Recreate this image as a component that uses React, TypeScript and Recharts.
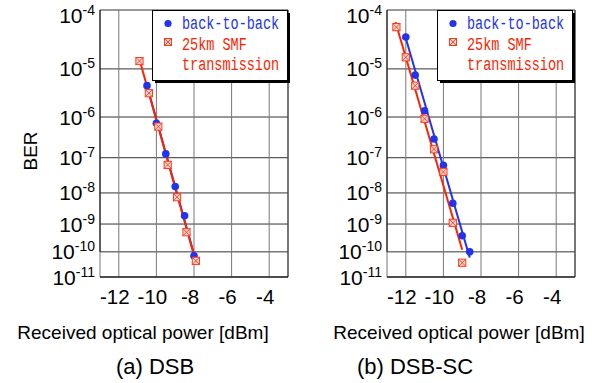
import React from "react";
import { LineChart, Line, XAxis, YAxis, CartesianGrid, ReferenceLine, Legend } from "recharts";

// ---- data (received optical power in dBm, BER) ----
const powerTicks = [-12, -10, -8, -6, -4];
const berExponents = [4, 5, 6, 7, 8, 9, 10, 11];

// (a) DSB
const dsbB2bPower = [-10.5, -10, -9.5, -9, -8.5, -8];
const dsbB2bBer = [4.7e-6, 7.2e-7, 1.26e-7, 1.55e-8, 1.9e-9, 7e-11];
const dsbSmfPower = [-10.9, -10.4, -9.9, -9.4, -8.9, -8.4, -7.9];
const dsbSmfBer = [1.4e-5, 3.3e-6, 6e-7, 6.4e-8, 7.4e-9, 5.2e-10, 4.5e-11];
const dsbB2bFitPower = [-10.5, -7.95];
const dsbB2bFitBer = [4.7e-6, 6e-11];
const dsbSmfFitPower = [-10.85, -8.0];
const dsbSmfFitBer = [1.3e-5, 7.5e-11];

// (b) DSB-SC
const dsbscB2bPower = [-12, -11.5, -11, -10.5, -10, -9.5, -9, -8.6];
const dsbscB2bBer = [3.7e-5, 7.6e-6, 1.38e-6, 3e-7, 6.2e-8, 4.8e-9, 3.9e-10, 1e-10];
const dsbscSmfPower = [-12.5, -12, -11.5, -11, -10.5, -10, -9.5, -9];
const dsbscSmfBer = [5.4e-5, 1.64e-5, 4.7e-6, 9.1e-7, 1.66e-7, 4.1e-8, 1.1e-9, 3.8e-11];
const dsbscB2bFitPower = [-12.05, -8.6];
const dsbscB2bFitBer = [4e-5, 6e-11];
const dsbscSmfFitPower = [-12.55, -9.0];
const dsbscSmfFitBer = [6.5e-5, 1.2e-10];

const legendLabels = ["back-to-back", "25km SMF", "transmission"];
const xTitle = "Received optical power [dBm]";
const yTitle = "BER";
const captions = ["(a) DSB", "(b) DSB-SC"];

// ---- helpers ----
const BLUE = "#2233ee";
const RED = "#ff2200";
const FONT = "'Liberation Sans', Arial, sans-serif";
const MONO = "'Liberation Mono', 'DejaVu Sans Mono', monospace";

// BER plotted on the usual log(-log BER) scale
const q = (ber: number) => Math.log10(-Math.log10(ber));
const toPoints = (p: number[], b: number[]) => p.map((x, i) => ({ p: x, q: q(b[i]) }));
const yTicks = berExponents.map((n) => Math.log10(n));
const yDomain = [Math.log10(4), Math.log10(11)];

const YTick = (props: any) => {
  const { x, y, payload } = props;
  const n = Math.round(Math.pow(10, payload.value));
  const extra = n === 4 ? 5 : 0;
  return (
    <text x={x} y={y + 7.5 + extra} textAnchor="end" fontFamily={FONT} fontSize={21} fill="#000">
      10
      <tspan fontSize={14} dy={-8}>-{n}</tspan>
    </text>
  );
};

const XTick = (props: any) => {
  const { x, y, payload } = props;
  return (
    <text x={x - 4} y={y + 27} textAnchor="middle" fontFamily={FONT} fontSize={20.5} fill="#000">
      {payload.value}
    </text>
  );
};

const BlueDot = (props: any) => {
  const { cx, cy, index } = props;
  return <circle key={`b${index}`} cx={cx} cy={cy} r={3.8} fill={BLUE} />;
};

const RedMark = (props: any) => {
  const { cx, cy, index } = props;
  const s = 3.6;
  return (
    <g key={`r${index}`}>
      <rect x={cx - s} y={cy - s} width={2 * s} height={2 * s} fill="#ffd9d2" stroke="#ff3a1a" strokeWidth={1} />
      <path d={`M${cx - s} ${cy - s}L${cx + s} ${cy + s}M${cx + s} ${cy - s}L${cx - s} ${cy + s}`} stroke="#ff3a1a" strokeWidth={0.9} />
    </g>
  );
};

const LegendBox = () => (
  <svg width={140} height={74} style={{ display: "block" }}>
    <rect x={3} y={3} width={135} height={70} fill="#000" />
    <rect x={0.5} y={0.5} width={135} height={70} fill="#fff" stroke="#000" strokeWidth={1} />
    <circle cx={16} cy={13.5} r={3.6} fill={BLUE} />
    <rect x={12.5} y={28.5} width={7} height={7} fill="#ffd9d2" stroke="#ff3a1a" strokeWidth={1} />
    <path d="M12.5 28.5L19.5 35.5M19.5 28.5L12.5 35.5" stroke="#ff3a1a" strokeWidth={0.9} />
    <g transform="translate(30 19) scale(0.75 1)">
      <text x={0} y={0} fontFamily={MONO} fontSize={18} fill={BLUE}>{legendLabels[0]}</text>
    </g>
    <g transform="translate(30 40) scale(0.75 1)">
      <text x={0} y={0} fontFamily={MONO} fontSize={18} fill={RED}>{legendLabels[1]}</text>
    </g>
    <g transform="translate(30 60) scale(0.75 1)">
      <text x={0} y={0} fontFamily={MONO} fontSize={18} fill={RED}>{legendLabels[2]}</text>
    </g>
  </svg>
);

type PanelProps = {
  b2b: { p: number; q: number }[];
  smf: { p: number; q: number }[];
  b2bFit: { p: number; q: number }[];
  smfFit: { p: number; q: number }[];
  yAxisWidth: number;
  rightMargin: number;
  legendLeft: number;
};

const Panel = ({ b2b, smf, b2bFit, smfFit, yAxisWidth, rightMargin, legendLeft }: PanelProps) => (
  <LineChart width={296} height={383} margin={{ top: 10, right: rightMargin, left: 0, bottom: 0 }}>
    <CartesianGrid horizontal={true} vertical={false} stroke="#333" strokeWidth={1} />
    <CartesianGrid horizontal={false} vertical={true} stroke="#777" strokeWidth={1} />
    <XAxis
      dataKey="p"
      type="number"
      domain={[-13, -3]}
      ticks={powerTicks}
      allowDataOverflow
      height={106}
      tickSize={0}
      tickMargin={0}
      tickLine={false}
      axisLine={{ stroke: "#000", strokeWidth: 1 }}
      tick={<XTick />}
    />
    <YAxis
      dataKey="q"
      type="number"
      domain={yDomain}
      ticks={yTicks}
      reversed
      allowDataOverflow
      width={yAxisWidth}
      tickSize={0}
      tickMargin={5}
      tickLine={false}
      axisLine={false}
      tick={<YTick />}
    />
    <ReferenceLine
      segment={[
        { x: -13, y: q(1e-4) },
        { x: -13, y: q(1e-10) },
      ]}
      stroke="#000"
      strokeWidth={1}
      ifOverflow="visible"
    />
    <ReferenceLine x={-3} stroke="#333" strokeWidth={1} ifOverflow="visible" />
    <Line data={b2bFit} dataKey="q" stroke={BLUE} strokeWidth={2} dot={false} isAnimationActive={false} />
    <Line data={smfFit} dataKey="q" stroke={RED} strokeWidth={2} dot={false} isAnimationActive={false} />
    <Line data={b2b} dataKey="q" stroke="none" dot={<BlueDot />} activeDot={false} isAnimationActive={false} />
    <Line data={smf} dataKey="q" stroke="none" dot={<RedMark />} activeDot={false} isAnimationActive={false} />
    <Legend
      layout="horizontal"
      verticalAlign="middle"
      align="center"
      content={() => <LegendBox />}
      wrapperStyle={{ left: legendLeft, top: 10, width: 140, height: 74 }}
    />
  </LineChart>
);

export default function App() {
  return (
    <div style={{ position: "absolute", left: 0, top: 0, width: 592, height: 383, background: "#fff" }}>
      <div style={{ position: "absolute", left: 0, top: 0 }}>
        <Panel
          b2b={toPoints(dsbB2bPower, dsbB2bBer)}
          smf={toPoints(dsbSmfPower, dsbSmfBer)}
          b2bFit={toPoints(dsbB2bFitPower, dsbB2bFitBer)}
          smfFit={toPoints(dsbSmfFitPower, dsbSmfFitBer)}
          yAxisWidth={100}
          rightMargin={8}
          legendLeft={152}
        />
      </div>
      <div style={{ position: "absolute", left: 296, top: 0 }}>
        <Panel
          b2b={toPoints(dsbscB2bPower, dsbscB2bBer)}
          smf={toPoints(dsbscSmfPower, dsbscSmfBer)}
          b2bFit={toPoints(dsbscB2bFitPower, dsbscB2bFitBer)}
          smfFit={toPoints(dsbscSmfFitPower, dsbscSmfFitBer)}
          yAxisWidth={91}
          rightMargin={17}
          legendLeft={141}
        />
      </div>
      <svg width={592} height={383} style={{ position: "absolute", left: 0, top: 0, pointerEvents: "none" }}>
        <text x={30} y={151} transform="rotate(-90 30 151)" dy={7} textAnchor="middle" fontFamily={FONT} fontSize={19} fill="#000">
          {yTitle}
        </text>
        <text x={143} y={339} textAnchor="middle" fontFamily={FONT} fontSize={19} fill="#000">{xTitle}</text>
        <text x={459} y={339} textAnchor="middle" fontFamily={FONT} fontSize={19} fill="#000">{xTitle}</text>
        <text x={155} y={374} textAnchor="middle" fontFamily={FONT} fontSize={22} fill="#000">{captions[0]}</text>
        <text x={415} y={374} textAnchor="middle" fontFamily={FONT} fontSize={22} fill="#000">{captions[1]}</text>
      </svg>
    </div>
  );
}
